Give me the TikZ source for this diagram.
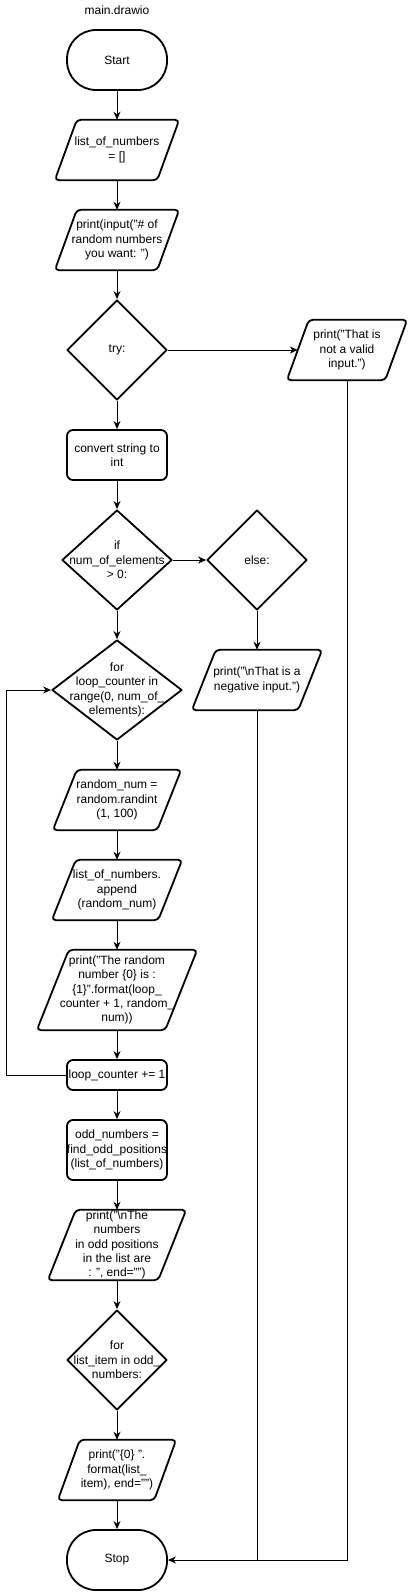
\documentclass[tikz,border=0pt]{standalone}
\usepackage{fontspec}
\setmainfont{Liberation Sans}
\usetikzlibrary{shapes.geometric,arrows.meta,calc}
\begin{document}
\begin{tikzpicture}[x=1pt,y=-1pt,
  txt/.style={align=center,font=\fontsize{12}{14.4}\selectfont,inner sep=0pt},
  term/.style={draw,line width=1.8pt,rounded corners=29pt,minimum width=100pt,minimum height=60pt,inner sep=0pt},
  proc/.style={draw,line width=1.8pt,rounded corners=6pt,inner sep=0pt,minimum width=100pt},
  dec/.style={diamond,draw,line width=1.8pt,inner sep=0pt,line join=round},
  io/.style={rectangle,inner sep=0pt,minimum height=60pt},
  border/.style={line width=1.8pt,rounded corners=4pt,line join=round},
  conn/.style={line width=1pt,-{Stealth[length=8pt,width=7pt,inset=2.5pt]}},
  wire/.style={line width=1pt}]
\useasboundingbox (0,0) rectangle (409,1592);

\node[txt] (title) at (117,10) {main.drawio};
\node[term,label={[txt]center:{Start}}] (start) at (117,60) {};
\node[io,minimum width=124pt,label={[txt]center:{list\_of\_numbers\\= []}}] (p1) at (117,150) {};
\node[io,minimum width=124pt,label={[txt]center:{print(input("\# of\\random numbers\\you want: ")}}] (p2) at (117,240) {};
\node[dec,minimum width=100pt,minimum height=100pt,label={[txt]center:{try:}}] (try) at (117,350) {};
\node[io,minimum width=120pt,label={[txt]center:{print("That is\\not a valid\\input.")}}] (pv) at (347,350) {};
\node[proc,minimum height=50pt,label={[txt]center:{convert string to\\int}}] (conv) at (117,455) {};
\node[dec,minimum width=110pt,minimum height=100pt,label={[txt]center:{if\\num\_of\_elements\\> 0:}}] (ifd) at (117,560) {};
\node[dec,minimum width=100pt,minimum height=100pt,label={[txt]center:{else:}}] (els) at (257,560) {};
\node[io,minimum width=130pt,label={[txt]center:{print("\textbackslash nThat is a\\negative input.")}}] (pn) at (257,680) {};
\node[dec,minimum width=130pt,minimum height=100pt,label={[txt]center:{for\\loop\_counter in\\range(0, num\_of\_\\elements):}}] (ford) at (117,690) {};
\node[io,minimum width=128pt,label={[txt]center:{random\_num =\\random.randint\\(1, 100)}}] (rn) at (117,800) {};
\node[io,minimum width=130pt,label={[txt]center:{list\_of\_numbers.\\append\\(random\_num)}}] (app) at (117,890) {};
\node[io,minimum width=160pt,minimum height=80pt,label={[txt]center:{print("The random\\number \{0\} is :\\\{1\}".format(loop\_\\counter + 1, random\_\\num))}}] (pr) at (117,990) {};
\node[proc,minimum height=30pt,label={[txt]center:{loop\_counter += 1}}] (lc) at (117,1075) {};
\node[proc,minimum height=60pt,label={[txt]center:{odd\_numbers =\\find\_odd\_positions\\(list\_of\_numbers)}}] (odd) at (117,1150) {};
\node[io,minimum width=138pt,minimum height=70pt,label={[txt]center:{print("\textbackslash nThe\\numbers\\in odd positions\\in the list are\\: ", end="")}}] (pt) at (117,1245) {};
\node[dec,minimum width=100pt,minimum height=100pt,label={[txt]center:{for\\list\_item in odd\_\\numbers:}}] (fl) at (117,1360) {};
\node[io,minimum width=118pt,label={[txt]center:{print("\{0\} ".\\format(list\_\\item), end="")}}] (pf) at (117,1470) {};
\node[term,label={[txt]center:{Stop}}] (stop) at (117,1560) {};

\foreach \n/\s in {p1/22,p2/22,pv/22,pn/24,rn/24,app/24,pr/32,pt/28,pf/22}
  \draw[border] ([xshift=\s pt]\n.north west) -- (\n.north east) -- ([xshift=-\s pt]\n.south east) -- (\n.south west) -- cycle;

\draw[conn] (start) -- (p1);
\draw[conn] (p1) -- (p2);
\draw[conn] (p2) -- (try);
\draw[conn] (try.east) -- ([xshift=11pt]pv.west);
\draw[conn] (try) -- (conv);
\draw[conn] (conv) -- (ifd);
\draw[conn] (ifd.east) -- (els.west);
\draw[conn] (els) -- (pn);
\draw[conn] (ifd) -- (ford);
\draw[conn] (ford) -- (rn);
\draw[conn] (rn) -- (app);
\draw[conn] (app) -- (pr);
\draw[conn] (pr) -- (lc);
\draw[conn] (lc.west) -- ++(-60,0) |- (ford.west);
\draw[conn] (lc) -- (odd);
\draw[conn] (odd) -- (pt);
\draw[conn] (pt) -- (fl);
\draw[conn] (fl) -- (pf);
\draw[conn] (pf) -- (stop);
\draw[conn] (pv.south) |- (stop.east);
\draw[wire] (pn.south) -- (pn.south |- stop.east);
\end{tikzpicture}
\end{document}
